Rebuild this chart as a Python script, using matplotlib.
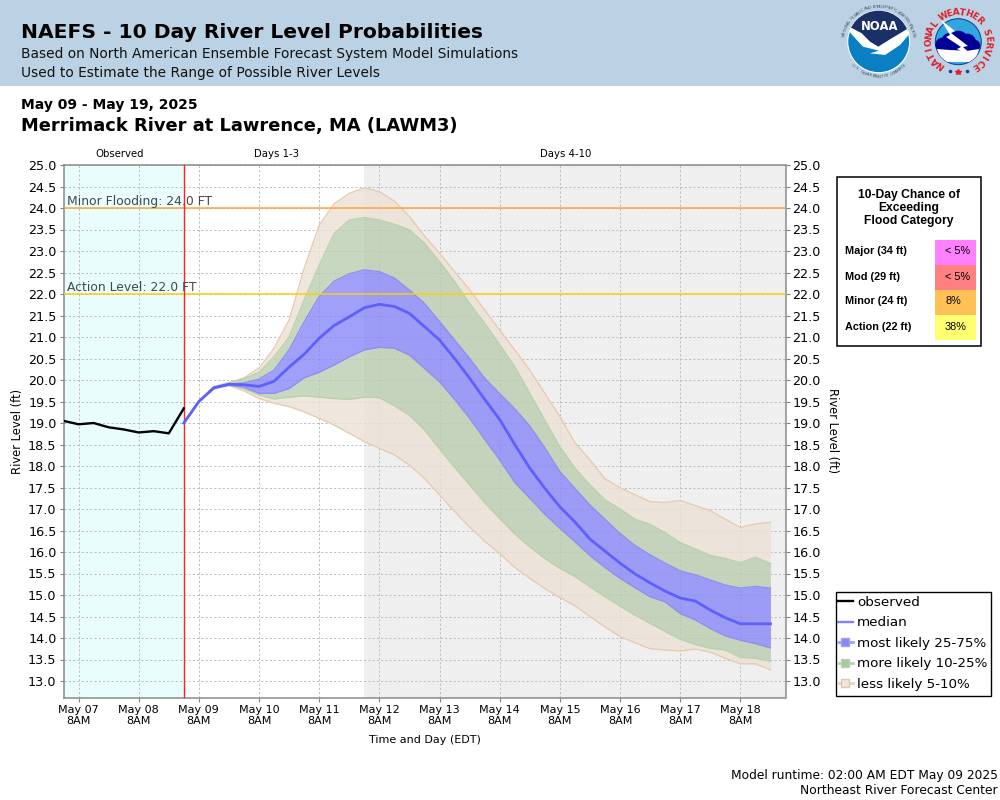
"""NAEFS 10 day river level probability plot for Merrimack River at Lawrence."""

import matplotlib
matplotlib.use("Agg")
import matplotlib.pyplot as plt
import numpy as np
from matplotlib.lines import Line2D
from matplotlib.patches import Circle, Polygon, Rectangle

# hours are counted from May 07 2AM, samples every 6 hours
observed = [19.05, 18.97, 19.0, 18.9, 18.85, 18.78, 18.81, 18.76, 19.34]
median = [19.0, 19.5, 19.82, 19.9, 19.89, 19.85, 19.97, 20.3, 20.6, 20.97,
          21.27, 21.47, 21.68, 21.76, 21.71, 21.55, 21.24, 20.93, 20.5, 20.04,
          19.55, 19.08, 18.5, 17.95, 17.48, 17.05, 16.7, 16.3, 16.02, 15.74,
          15.49, 15.28, 15.09, 14.93, 14.86, 14.65, 14.47, 14.33, 14.33, 14.33]
p75 = [19.0, 19.5, 19.83, 19.91, 19.93, 20.02, 20.23, 20.7, 21.35, 21.94,
       22.3, 22.47, 22.56, 22.52, 22.37, 22.09, 21.78, 21.36, 20.93, 20.5,
       20.04, 19.68, 19.33, 18.93, 18.42, 17.87, 17.48, 17.09, 16.76, 16.43,
       16.15, 15.93, 15.74, 15.56, 15.47, 15.35, 15.23, 15.16, 15.2, 15.16]
p25 = [19.0, 19.5, 19.81, 19.88, 19.83, 19.69, 19.69, 19.8, 20.05, 20.18,
       20.35, 20.54, 20.7, 20.76, 20.74, 20.58, 20.27, 19.96, 19.55, 19.11,
       18.62, 18.14, 17.62, 17.25, 16.88, 16.55, 16.24, 15.92, 15.64, 15.39,
       15.17, 14.96, 14.84, 14.57, 14.42, 14.22, 14.05, 13.95, 13.87, 13.77]
p90 = [19.0, 19.5, 19.84, 19.93, 20.03, 20.18, 20.54, 21.0, 21.86, 22.67,
       23.41, 23.72, 23.78, 23.72, 23.62, 23.49, 23.18, 22.75, 22.29, 21.78,
       21.32, 20.82, 20.31, 19.69, 19.06, 18.45, 17.95, 17.56, 17.21, 17.0,
       16.76, 16.64, 16.45, 16.22, 16.07, 15.92, 15.85, 15.75, 15.88, 15.73]
p10 = [19.0, 19.5, 19.8, 19.88, 19.8, 19.65, 19.56, 19.6, 19.63, 19.6,
       19.57, 19.55, 19.6, 19.59, 19.4, 19.18, 18.84, 18.4, 17.97, 17.56,
       17.15, 16.78, 16.42, 16.12, 15.85, 15.62, 15.43, 15.19, 14.96, 14.74,
       14.53, 14.34, 14.15, 13.97, 13.85, 13.76, 13.72, 13.55, 13.53, 13.46]
p95 = [19.0, 19.5, 19.85, 19.94, 20.05, 20.28, 20.74, 21.4, 22.6, 23.6,
       24.1, 24.34, 24.47, 24.38, 24.16, 23.8, 23.35, 22.95, 22.52, 22.1,
       21.63, 21.16, 20.7, 20.23, 19.69, 19.15, 18.54, 18.14, 17.7, 17.5,
       17.33, 17.17, 17.15, 17.2, 17.08, 16.96, 16.76, 16.57, 16.65, 16.69]
p5 = [19.0, 19.5, 19.79, 19.87, 19.75, 19.57, 19.46, 19.38, 19.26, 19.11,
      18.95, 18.76, 18.57, 18.41, 18.26, 18.02, 17.71, 17.33, 16.94, 16.58,
      16.25, 15.97, 15.64, 15.39, 15.15, 14.94, 14.75, 14.5, 14.26, 14.03,
      13.89, 13.75, 13.72, 13.7, 13.74, 13.67, 13.53, 13.4, 13.4, 13.26]

day_labels = ["May 07", "May 08", "May 09", "May 10", "May 11", "May 12",
              "May 13", "May 14", "May 15", "May 16", "May 17", "May 18"]
flood_rows = ["Major (34 ft)", "Mod (29 ft)", "Minor (24 ft)", "Action (22 ft)"]
flood_chances = ["< 5%", "< 5%", "8%", "38%"]
flood_colors = ["#ff80ff", "#ff8080", "#ffc055", "#ffff70"]

BLUE = "#5f5fff"
BLUE_FILL = "#8888f9"
GREEN_FILL = "#bbcdb1"
TAN_FILL = "#ece2d6"
BLUE_EDGE = "#8f8ff0"
GREEN_EDGE = "#b9d2aa"
TAN_EDGE = "#e4cdb0"

obs_hours = np.arange(len(observed)) * 6
fc_hours = 48 + np.arange(len(median)) * 6
tick_hours = 6 + np.arange(len(day_labels)) * 24

fig = plt.figure(figsize=(10, 8), dpi=100)
ax = fig.add_axes([0.0635, 1 - 698 / 800, 0.722, (698 - 165) / 800])
ax.set_xlim(0, 288)
ax.set_ylim(13 - 17 / 43, 25)

# shaded periods
ax.axvspan(0, 48, color="#e9fdfd", lw=0, zorder=0)
ax.axvspan(120, 288, color="#efefef", lw=0, zorder=0)

yticks = np.arange(13, 25.01, 0.5)
ax.set_yticks(yticks)
ax.set_yticklabels([f"{v:.1f}" for v in yticks])
ax.set_xticks(tick_hours)
ax.set_xticklabels([f"{d}\n8AM" for d in day_labels], fontsize=8, linespacing=1.15)
ax.grid(True, color="#bdbdbd", ls=(0, (2.2, 2.2)), lw=0.7, zorder=1)
ax.set_axisbelow(True)
ax.tick_params(axis="y", labelsize=9.2, length=3, width=0.8, color="#808080",
               labelright=True, right=True, pad=2)
ax.tick_params(axis="x", length=3, width=0.8, color="#808080", pad=2)
for spine in ax.spines.values():
    spine.set_color("#8a8a8a")
    spine.set_linewidth(1.1)

# probability bands
for lo, hi, col in [(p5, p10, TAN_FILL), (p90, p95, TAN_FILL),
                    (p10, p25, GREEN_FILL), (p75, p90, GREEN_FILL),
                    (p25, p75, BLUE_FILL)]:
    ax.fill_between(fc_hours, lo, hi, color=col, alpha=0.8, lw=0, zorder=2)
for series, col in [(p5, TAN_EDGE), (p95, TAN_EDGE), (p10, GREEN_EDGE),
                    (p90, GREEN_EDGE), (p25, BLUE_EDGE), (p75, BLUE_EDGE)]:
    ax.plot(fc_hours, series, color=col, lw=1.0, zorder=2.5)

ax.axhline(24, color="#ffa53a", lw=1.1, zorder=3)
ax.axhline(22, color="#ffcc11", lw=1.1, zorder=3)
ax.axvline(48, color="#ff2020", lw=1.0, zorder=4)
ax.plot(obs_hours, observed, color="black", lw=1.7, zorder=5)
ax.plot(fc_hours, median, color=BLUE, lw=2.0, zorder=5)

ax.text(1.5, 24.0, "Minor Flooding: 24.0 FT", fontsize=8.9, color="#3f4a50",
        va="bottom", ha="left", zorder=6)
ax.text(1.5, 22.0, "Action Level: 22.0 FT", fontsize=8.9, color="#3f4a50",
        va="bottom", ha="left", zorder=6)

handles = [
    Line2D([], [], color="black", lw=1.7),
    Line2D([], [], color=BLUE, lw=1.7, alpha=0.8),
    Line2D([], [], color="#a0a0fa", lw=2, marker="s", ms=5.5,
           mfc="#8888f5", mec="#a0a0fa"),
    Line2D([], [], color="#b9d3b0", lw=2, marker="s", ms=5.5,
           mfc="#a9c9a0", mec="#b9d3b0"),
    Line2D([], [], color="#e6d3bb", lw=2, marker="s", ms=5.5,
           mfc="#f0e7db", mec="#dcc8ae"),
]
# legend frame is drawn on the overlay so the padding can differ per side
fig.legend(handles, ["observed", "median", "most likely 25-75%",
                     "more likely 10-25%", "less likely 5-10%"],
           loc="upper left", bbox_to_anchor=(0.838, 1 - 596 / 800),
           fontsize=9.7, frameon=False, handlelength=1.1, handletextpad=0.3,
           labelspacing=0.55, borderpad=0, borderaxespad=0)

# everything else is placed in pixel coordinates on a full figure overlay
ov = fig.add_axes([0, 0, 1, 1], facecolor="none")
ov.set_xlim(0, 1000)
ov.set_ylim(800, 0)
ov.axis("off")

ov.add_patch(Rectangle((0, 0), 1000, 86, color="#bad2e4", lw=0, zorder=0))
ov.add_patch(Rectangle((835.5, 591.5), 155.5, 104, fc="white", ec="black", lw=1.0))
ov.text(21, 33, "NAEFS - 10 Day River Level Probabilities", fontsize=14.55,
        fontweight="bold", va="center")
ov.text(21, 54, "Based on North American Ensemble Forecast System Model Simulations",
        fontsize=9.92, va="center", color="#111111")
ov.text(21, 73, "Used to Estimate the Range of Possible River Levels",
        fontsize=9.92, va="center", color="#111111")
ov.text(21, 105, "May 09 - May 19, 2025", fontsize=10, fontweight="bold", va="center")
ov.text(21, 126, "Merrimack River at Lawrence, MA (LAWM3)", fontsize=12.9,
        fontweight="bold", va="center")

ov.text(120, 154, "Observed", fontsize=7.3, ha="center", va="center")
ov.text(276, 154, "Days 1-3", fontsize=7.3, ha="center", va="center")
ov.text(566, 154, "Days 4-10", fontsize=7.3, ha="center", va="center")
ov.text(18, 431, "River Level (ft)", fontsize=8.3, rotation=90, ha="center", va="center")
ov.text(832, 431, "River Level (ft)", fontsize=8.3, rotation=-90, ha="center", va="center")
ov.text(425, 740, "Time and Day (EDT)", fontsize=8, ha="center", va="center")
ov.text(998, 775, "Model runtime: 02:00 AM EDT May 09 2025", fontsize=8.8,
        ha="right", va="center")
ov.text(998, 791, "Northeast River Forecast Center", fontsize=8.8, ha="right", va="center")

# flood category table
ov.add_patch(Rectangle((836.5, 177), 144, 168.5, fc="white", ec="black", lw=1.1))
for i, line in enumerate(["10-Day Chance of", "Exceeding", "Flood Category"]):
    ov.text(909, 195 + 13 * i, line, family="Liberation Sans", fontweight="bold",
            fontsize=8.75, ha="center", va="center")
for i, (row, chance, col) in enumerate(zip(flood_rows, flood_chances, flood_colors)):
    ov.add_patch(Rectangle((935, 240 + 25 * i), 41, 25.3, color=col, lw=0))
    ov.text(845, 251.5 + 25 * i, row, family="Liberation Sans", fontweight="bold",
            fontsize=7.85, va="center")
    ov.text(945, 251.5 + 25 * i, chance, family="Liberation Sans",
            fontsize=7.8, va="center")


def ring_text(cx, cy, r, text, start, stop, flip=False, **kw):
    # letters around a circle, clockwise from start to stop (degrees)
    for ch, a in zip(text, np.linspace(start, stop, len(text))):
        t = np.deg2rad(a)
        rot = a + 90 if flip else a - 90
        ov.text(cx + r * np.cos(t), cy - r * np.sin(t), ch, rotation=rot,
                rotation_mode="anchor", ha="center", va="center", **kw)


# NOAA logo
cx, cy = 878.7, 41.7
disc = Circle((cx, cy), 31, fc="#0a7fc4", ec="white", lw=0.8)
ov.add_patch(disc)
top = Polygon([(845, 5), (912, 5), (912, 28.3), (891.7, 38.3), (878.3, 46.7), (870, 41.7),
               (861.7, 33.3), (845, 26)], fc="#1c3068", ec="none")
ov.add_patch(top)
top.set_clip_path(disc)
bird = Polygon([(849.3, 26.7), (861.7, 33.3), (870, 41.7), (878.3, 46.7), (891.7, 38.3),
                (908.3, 28.3), (910, 33.3), (900, 45), (885, 55), (870, 53.3), (879, 50.7),
                (863, 46.7), (849.3, 31.7)], fc="white", ec="none")
ov.add_patch(bird)
bird.set_clip_path(disc)
ov.text(cx + 0.5, 26, "NOAA", color="white", fontsize=8.4, fontweight="bold",
        ha="center", va="center")
ring_text(cx, cy, 35, "NATIONAL OCEANIC AND ATMOSPHERIC ADMINISTRATION", 170, 10,
          fontsize=2.9, color="#44586a")
ring_text(cx, cy, 35, "U.S. DEPARTMENT OF COMMERCE", 222, 318, flip=True,
          fontsize=2.9, color="#44586a")

# NWS logo
cx, cy = 958.3, 41.7
sky = Circle((cx, cy), 23, fc="#2fa6de", ec="#103a90", lw=0.7)
ov.add_patch(sky)
for dx, dy, r in [(-16, 3, 7), (-8, 0, 9), (0, -1, 10), (9, 1, 9), (16, 4, 6)]:
    ov.add_patch(Circle((cx + dx, cy + dy), r, fc="#000096", ec="none"))
cloud_base = Polygon([(937, 49), (950, 50), (966, 51), (979, 49), (975, 62), (941, 62)],
                     fc="white", ec="none")
ov.add_patch(cloud_base)
cloud_base.set_clip_path(sky)
ov.add_patch(Polygon([(941, 20), (955, 31), (951, 33), (968, 46), (963, 47), (975, 58),
                      (957, 49), (961, 47), (946, 37), (950, 35)], fc="white", ec="none"))
ring_text(cx, cy, 29.5, "NATIONAL WEATHER SERVICE", 232, -56, fontsize=6.4,
          fontweight="bold", color="#e0202a")
ov.plot([949.5, 966.5], [71, 71], ls="", marker="o", ms=1.6, color="#2040a0")
ov.plot([958], [72], ls="", marker="*", ms=4, color="#e0202a")

fig.savefig("out.png", dpi=100)
